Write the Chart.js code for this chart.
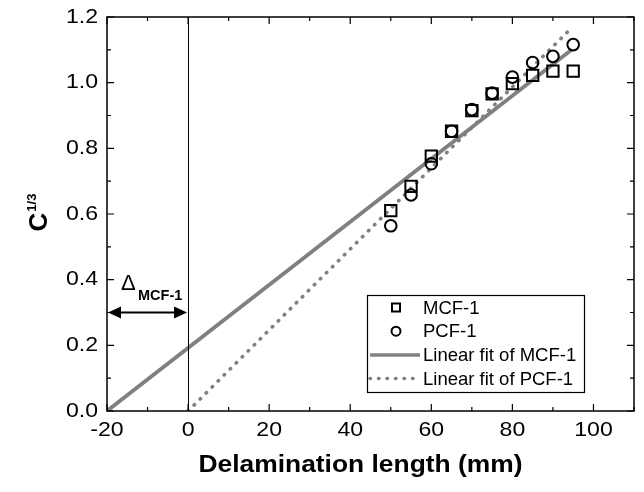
<!DOCTYPE html>
<html>
<head>
<meta charset="utf-8">
<script src="https://cdn.jsdelivr.net/npm/chart.js@4"></script>
<style>
  html, body { margin: 0; padding: 0; background: #fff; }
  #wrap { width: 644px; height: 492px; }
</style>
</head>
<body>
<div id="wrap"><canvas id="c" width="644" height="492"></canvas></div>
<script>
// Delamination length vs C^(1/3)

const lengths = [50, 55, 60, 65, 70, 75, 80, 85, 90, 95];
const mcfValues = [0.61, 0.684, 0.776, 0.852, 0.915, 0.966, 0.997, 1.022, 1.035, 1.035];
const pcfValues = [0.564, 0.658, 0.753, 0.852, 0.918, 0.968, 1.017, 1.061, 1.08, 1.116];

// fitted lines, read at their two ends
const mcfFitX = [-20, 94.6];
const mcfFitY = [0, 1.10];
const pcfFitX = [0, 93.8];
const pcfFitY = [0, 1.157];

const xTicks = [-20, 0, 20, 40, 60, 80, 100];
const yTicks = [0.0, 0.2, 0.4, 0.6, 0.8, 1.0, 1.2];

const deltaArrowY = 0.30;

const FONT = 'Arial, "Liberation Sans", sans-serif';
const GRAY = '#808080';
const TEXT_STRETCH = 1.1;

function pairs(xs, ys) {
    return xs.map((x, i) => ({ x: x, y: ys[i] }));
}

function stretchText(ctx, text, x, y, align, sx) {
    ctx.save();
    ctx.translate(x, y);
    ctx.scale(sx, 1);
    ctx.textAlign = align;
    ctx.fillText(text, 0, 0);
    ctx.restore();
}

// frame, inward ticks, labels, x=0 line, delta arrow, titles, legend
const decorPlugin = {
    id: 'decor',
    afterDatasetsDraw(chart) {
        const ctx = chart.ctx;
        const a = chart.chartArea;
        const xs = chart.scales.x;
        const ys = chart.scales.y;
        ctx.save();

        // vertical line at x = 0
        const x0 = Math.round(xs.getPixelForValue(0)) + 0.5;
        ctx.strokeStyle = '#000';
        ctx.lineWidth = 1;
        ctx.beginPath();
        ctx.moveTo(x0, a.top);
        ctx.lineTo(x0, a.bottom);
        ctx.stroke();

        // frame
        ctx.lineWidth = 1.5;
        ctx.strokeRect(a.left, a.top, a.right - a.left, a.bottom - a.top);

        // ticks (major + minor), pointing inward on all four sides
        ctx.lineWidth = 1.2;
        ctx.beginPath();
        for (let v = -20; v <= 110; v += 10) {
            const p = xs.getPixelForValue(v);
            const len = v % 20 === 0 ? 7 : 4;
            ctx.moveTo(p, a.bottom); ctx.lineTo(p, a.bottom - len);
            ctx.moveTo(p, a.top); ctx.lineTo(p, a.top + len);
        }
        for (let k = 0; k <= 12; k++) {
            const p = ys.getPixelForValue(k / 10);
            const len = k % 2 === 0 ? 7 : 4;
            ctx.moveTo(a.left, p); ctx.lineTo(a.left + len, p);
            ctx.moveTo(a.right, p); ctx.lineTo(a.right - len, p);
        }
        ctx.stroke();

        // tick labels
        ctx.fillStyle = '#000';
        ctx.font = '21px ' + FONT;
        ctx.textBaseline = 'middle';
        xTicks.forEach(v => {
            stretchText(ctx, String(v), xs.getPixelForValue(v), a.bottom + 19, 'center', TEXT_STRETCH);
        });
        yTicks.forEach(v => {
            stretchText(ctx, v.toFixed(1), a.left - 9, ys.getPixelForValue(v), 'right', TEXT_STRETCH);
        });

        // x axis title
        ctx.font = 'bold 24px ' + FONT;
        ctx.textBaseline = 'alphabetic';
        stretchText(ctx, 'Delamination length (mm)', (a.left + a.right) / 2 - 10, 472, 'center', 1.1);

        // double arrow for delta
        const ay = ys.getPixelForValue(deltaArrowY);
        const ax1 = xs.getPixelForValue(-20) + 1;
        const ax2 = xs.getPixelForValue(0) - 1;
        ctx.lineWidth = 2;
        ctx.beginPath();
        ctx.moveTo(ax1 + 8, ay);
        ctx.lineTo(ax2 - 8, ay);
        ctx.stroke();
        ctx.beginPath();
        ctx.moveTo(ax1, ay); ctx.lineTo(ax1 + 13, ay - 6); ctx.lineTo(ax1 + 13, ay + 6); ctx.closePath();
        ctx.moveTo(ax2, ay); ctx.lineTo(ax2 - 13, ay - 6); ctx.lineTo(ax2 - 13, ay + 6); ctx.closePath();
        ctx.fill();

        ctx.textAlign = 'left';
        ctx.font = '22px ' + FONT;
        ctx.fillText('\u0394', ax1 + 13, ay - 23);
        ctx.font = 'bold 14.5px ' + FONT;
        ctx.fillText('MCF-1', ax1 + 30, ay - 13);

        // y axis title C^(1/3)
        ctx.save();
        ctx.translate(47, 213);
        ctx.rotate(-Math.PI / 2);
        ctx.font = 'bold 26px ' + FONT;
        const cw = ctx.measureText('C').width;
        ctx.font = 'bold 13px ' + FONT;
        const sw = ctx.measureText('1/3').width;
        const start = -(cw + sw) / 2;
        ctx.font = 'bold 26px ' + FONT;
        ctx.fillText('C', start, 0);
        ctx.font = 'bold 13px ' + FONT;
        ctx.fillText('1/3', start + cw + 1, -11);
        ctx.restore();

        // legend box
        const lx = 367, ly = 295, lw = 217, lh = 97;
        ctx.fillStyle = '#fff';
        ctx.fillRect(lx, ly, lw, lh);
        ctx.strokeStyle = '#000';
        ctx.lineWidth = 1.2;
        ctx.strokeRect(lx + 0.5, ly + 0.5, lw, lh);

        const rows = [
            { label: 'MCF-1', kind: 'square' },
            { label: 'PCF-1', kind: 'circle' },
            { label: 'Linear fit of MCF-1', kind: 'solid' },
            { label: 'Linear fit of PCF-1', kind: 'dot' }
        ];
        ctx.font = '18.5px ' + FONT;
        ctx.textBaseline = 'middle';
        rows.forEach((r, i) => {
            const y = ly + 12.5 + i * 23.7;
            const cx = lx + 29;
            ctx.lineWidth = 2;
            ctx.strokeStyle = '#000';
            if (r.kind === 'square') {
                ctx.strokeRect(cx - 4, y - 4, 8, 8);
            } else if (r.kind === 'circle') {
                ctx.beginPath();
                ctx.arc(cx, y, 4.5, 0, Math.PI * 2);
                ctx.stroke();
            } else {
                ctx.strokeStyle = GRAY;
                ctx.lineWidth = 3.5;
                if (r.kind === 'dot') {
                    ctx.setLineDash([0.5, 8]);
                    ctx.lineCap = 'round';
                }
                ctx.beginPath();
                ctx.moveTo(lx + 3, y);
                ctx.lineTo(lx + 53, y);
                ctx.stroke();
                ctx.setLineDash([]);
                ctx.lineCap = 'butt';
            }
            ctx.fillStyle = '#000';
            ctx.fillText(r.label, lx + 56, y + 1);
        });

        ctx.restore();
    }
};

new Chart(document.getElementById('c'), {
    type: 'scatter',
    data: {
        datasets: [
            {
                label: 'MCF-1',
                data: pairs(lengths, mcfValues),
                pointStyle: 'rect',
                pointRadius: 8,
                borderColor: '#000',
                backgroundColor: 'rgba(0,0,0,0)',
                pointBorderWidth: 2
            },
            {
                label: 'PCF-1',
                data: pairs(lengths, pcfValues),
                pointStyle: 'circle',
                pointRadius: 5.8,
                borderColor: '#000',
                backgroundColor: 'rgba(0,0,0,0)',
                pointBorderWidth: 2
            },
            {
                label: 'Linear fit of MCF-1',
                data: pairs(mcfFitX, mcfFitY),
                showLine: true,
                borderColor: GRAY,
                borderWidth: 3.8,
                pointRadius: 0
            },
            {
                label: 'Linear fit of PCF-1',
                data: pairs(pcfFitX, pcfFitY),
                showLine: true,
                borderColor: GRAY,
                borderWidth: 3.6,
                borderDash: [0.5, 8],
                borderCapStyle: 'round',
                pointRadius: 0
            }
        ]
    },
    options: {
        responsive: false,
        animation: false,
        layout: { padding: { top: 17, right: 6, left: 0, bottom: 0 } },
        plugins: {
            legend: { display: false },
            tooltip: { enabled: false }
        },
        scales: {
            x: {
                type: 'linear',
                min: -20,
                max: 110,
                grid: { display: false, drawTicks: false },
                border: { display: false },
                ticks: { display: false },
                afterFit: axis => { axis.height = 81; }
            },
            y: {
                type: 'linear',
                min: 0,
                max: 1.2,
                grid: { display: false, drawTicks: false },
                border: { display: false },
                ticks: { display: false },
                afterFit: axis => { axis.width = 107; }
            }
        }
    },
    plugins: [decorPlugin]
});
</script>
</body>
</html>
